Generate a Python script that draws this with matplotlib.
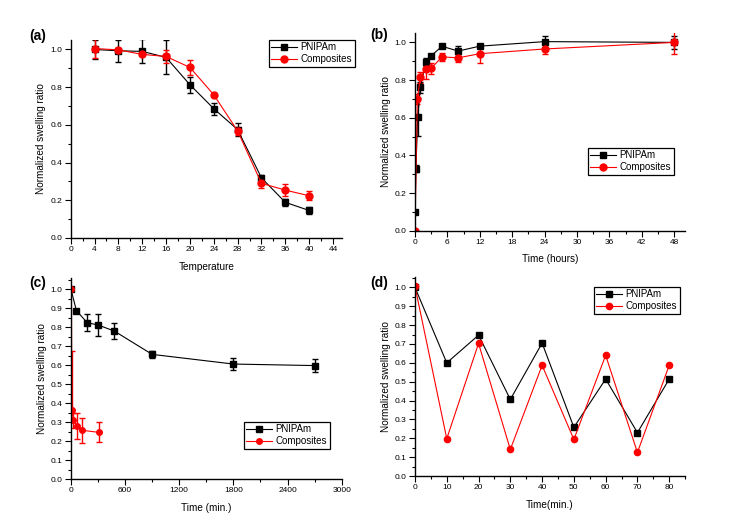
import matplotlib
matplotlib.use("Agg")
import matplotlib.pyplot as plt
import numpy as np
from matplotlib.ticker import MultipleLocator

plt.rcParams['font.family'] = ['Liberation Sans', 'DejaVu Sans']

# ---- data ----
# (a) temperature
temp = [4, 8, 12, 16, 20, 24, 28, 32, 36, 40]
a_pnipam = [1.0, 0.993, 0.99, 0.958, 0.813, 0.686, 0.575, 0.319, 0.189, 0.146]
a_pnipam_err = [0.05, 0.057, 0.063, 0.09, 0.043, 0.032, 0.035, 0.015, 0.02, 0.017]
a_comp = [1.005, 0.998, 0.974, 0.963, 0.905, 0.76, 0.568, 0.29, 0.254, 0.224]
a_comp_err = [0.05, 0.01, 0.01, 0.035, 0.04, 0.008, 0.02, 0.027, 0.03, 0.023]

# (b) time in hours
b_t_pnipam = [0, 0.17, 0.5, 1, 2, 3, 5, 8, 12, 24, 48]
b_pnipam = [0.1, 0.33, 0.605, 0.761, 0.897, 0.929, 0.979, 0.954, 0.98, 1.004, 1.0]
b_pnipam_err = [0.0, 0.02, 0.1, 0.03, 0.02, 0.01, 0.01, 0.025, 0.01, 0.03, 0.035]
b_t_comp = [0, 0.43, 1, 2, 3, 5, 8, 12, 24, 48]
b_comp = [0.0, 0.70, 0.815, 0.857, 0.862, 0.923, 0.918, 0.94, 0.965, 1.0]
b_comp_err = [0.0, 0.025, 0.03, 0.05, 0.03, 0.02, 0.02, 0.05, 0.025, 0.06]

# (c) time in min
c_t_pnipam = [0, 60, 180, 300, 480, 900, 1800, 2700]
c_pnipam = [1.0, 0.888, 0.824, 0.812, 0.78, 0.657, 0.606, 0.598]
c_pnipam_err = [0.0, 0.01, 0.045, 0.06, 0.04, 0.02, 0.03, 0.035]
c_t_comp = [5, 10, 26, 66, 122, 307]
c_comp = [1.0, 0.366, 0.309, 0.281, 0.257, 0.246]
c_comp_err_lo = [0.0, 0.0, 0.04, 0.068, 0.065, 0.053]
c_comp_err_hi = [0.0, 0.31, 0.04, 0.068, 0.065, 0.053]

# (d) cycling
d_t = [0, 10, 20, 30, 40, 50, 60, 70, 80]
d_pnipam = [1.0, 0.60, 0.747, 0.406, 0.705, 0.258, 0.514, 0.23, 0.514]
d_comp = [1.005, 0.198, 0.703, 0.141, 0.587, 0.194, 0.64, 0.125, 0.587]

RED = '#ff0000'
fig = plt.figure(figsize=(7.4, 5.25), dpi=100)

def style(ax, xmaj, xmin, ymaj, ymin):
    for s in ['top', 'right']:
        ax.spines[s].set_visible(False)
    for s in ['left', 'bottom']:
        ax.spines[s].set_linewidth(1.0)
    ax.xaxis.set_major_locator(MultipleLocator(xmaj))
    ax.xaxis.set_minor_locator(MultipleLocator(xmin))
    ax.yaxis.set_major_locator(MultipleLocator(ymaj))
    ax.yaxis.set_minor_locator(MultipleLocator(ymin))
    ax.tick_params(which='major', direction='out', length=4, width=0.8, labelsize=6, pad=2)
    ax.tick_params(which='minor', direction='out', length=2.5, width=0.8)
    ax.set_ylabel('Normalized swelling ratio', fontsize=7.2, labelpad=3)

def legend(ax, handles, xy):
    leg = ax.legend(handles=handles, labels=['PNIPAm', 'Composites'],
                    loc='upper left', bbox_to_anchor=xy, bbox_transform=fig.transFigure,
                    fontsize=7, frameon=True, fancybox=False, framealpha=1,
                    edgecolor='black', handlelength=2.6, borderpad=0.25,
                    labelspacing=0.2, handletextpad=0.4, borderaxespad=0)
    leg.get_frame().set_linewidth(0.9)

ekw = dict(elinewidth=1.0, capsize=2.2, capthick=1.0)

# (a)
ax = fig.add_axes([0.0955, 0.5467, 0.3666, 0.377])
e1 = ax.errorbar(temp, a_pnipam, yerr=a_pnipam_err, color='black', marker='s', ms=4.5,
                 lw=0.8, **ekw)
e2 = ax.errorbar(temp, a_comp, yerr=a_comp_err, color=RED, marker='o', ms=5,
                 lw=0.8, **ekw)
ax.set_xlim(0, 45.5)
ax.set_ylim(0, 1.05)
style(ax, 4, 2, 0.2, 0.1)
ax.set_xlabel('Temperature', fontsize=7.2, labelpad=6)
legend(ax, [e1.lines[0], e2.lines[0]], (0.3635, 0.9238))
fig.text(0.039, 0.932, '(a)', fontsize=10, fontweight='bold', ha='left', va='center')

# (b)
ax = fig.add_axes([0.5608, 0.5606, 0.365, 0.3766])
e1 = ax.errorbar(b_t_pnipam, b_pnipam, yerr=b_pnipam_err, color='black', marker='s', ms=4.5,
                 lw=0.8, **ekw)
e2 = ax.errorbar(b_t_comp, b_comp, yerr=b_comp_err, color=RED, marker='o', ms=5,
                 lw=0.8, **ekw)
ax.set_xlim(0, 50)
ax.set_ylim(0, 1.05)
style(ax, 6, 3, 0.2, 0.1)
ax.set_xlabel('Time (hours)', fontsize=7.2, labelpad=6)
legend(ax, [e1.lines[0], e2.lines[0]], (0.7946, 0.7181))
fig.text(0.500, 0.934, '(b)', fontsize=10, fontweight='bold', ha='left', va='center')

# (c)
ax = fig.add_axes([0.0959, 0.0876, 0.3658, 0.383])
e1 = ax.errorbar(c_t_pnipam, c_pnipam, yerr=c_pnipam_err, color='black', marker='s', ms=4.5,
                 lw=0.8, **ekw)
e2 = ax.errorbar(c_t_comp, c_comp, yerr=[c_comp_err_lo, c_comp_err_hi], color=RED, marker='o',
                 ms=4, lw=0.8, **ekw)
ax.set_xlim(0, 3000)
ax.set_ylim(0, 1.06)
style(ax, 600, 300, 0.1, 0.05)
ax.set_xlabel('Time (min.)', fontsize=7.2, labelpad=6)
legend(ax, [e1.lines[0], e2.lines[0]], (0.3297, 0.1962))
fig.text(0.039, 0.460, '(c)', fontsize=10, fontweight='bold', ha='left', va='center')

# (d)
ax = fig.add_axes([0.5608, 0.0933, 0.365, 0.379])
l1, = ax.plot(d_t, d_pnipam, color='black', marker='s', ms=4.5, lw=0.8)
l2, = ax.plot(d_t, d_comp, color=RED, marker='o', ms=4.5, lw=0.8)
ax.set_xlim(0, 85)
ax.set_ylim(0, 1.055)
style(ax, 10, 5, 0.1, 0.05)
ax.set_xlabel('Time(min.)', fontsize=7.2, labelpad=6)
legend(ax, [l1, l2], (0.8027, 0.4533))
fig.text(0.500, 0.460, '(d)', fontsize=10, fontweight='bold', ha='left', va='center')

fig.savefig('out.png', dpi=100)
